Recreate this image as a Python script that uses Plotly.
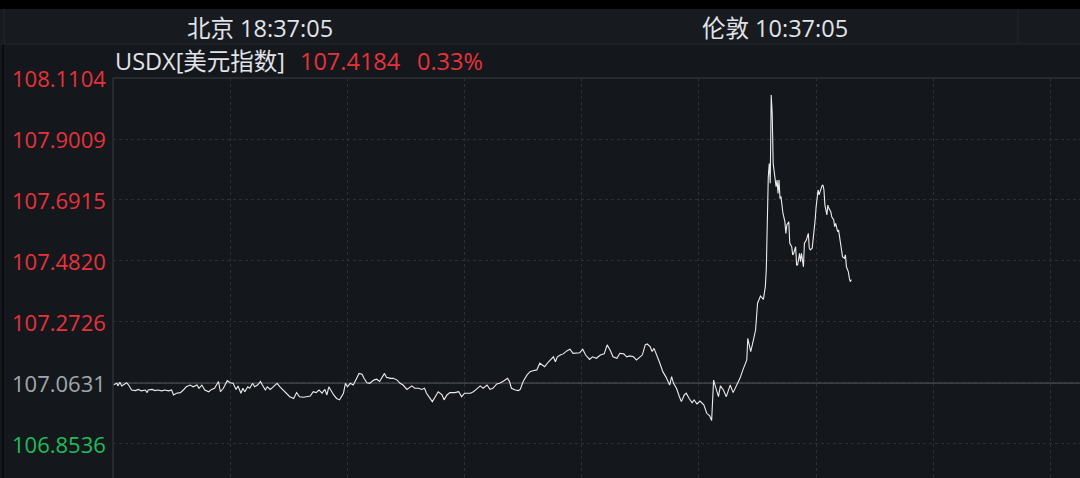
import plotly.graph_objects as go

# ---- data (minutes after 06:00 Beijing time, USDX price) ----
minutes = [0, 4, 5, 7, 9, 12, 14, 16, 19, 23, 26, 29, 33, 35, 36, 40, 43, 46, 50, 53, 57, 60, 62, 65, 69, 72, 75, 79, 82, 86,
           88, 91, 94, 98, 101, 104, 108, 110, 113, 117, 120, 123, 126, 128, 131, 133, 135, 138, 140, 143, 145, 148, 151, 153, 156, 158, 161, 164, 168, 171,
           174, 178, 181, 185, 188, 191, 195, 198, 202, 205, 208, 211, 214, 217, 219, 221, 224, 226, 229, 232, 236, 238, 240, 243, 246, 250, 252, 255, 257, 260,
           263, 267, 270, 273, 275, 278, 280, 284, 287, 291, 294, 297, 301, 304, 306, 309, 313, 316, 319, 321, 325, 327, 330, 333, 337, 339, 342, 345, 350, 354,
           357, 360, 366, 369, 372, 376, 379, 383, 386, 389, 393, 396, 400, 404, 406, 408, 412, 415, 417, 420, 424, 427, 430, 434, 437, 440, 442, 446, 448, 451,
           453, 455, 458, 461, 465, 468, 471, 475, 478, 481, 484, 488, 491, 495, 499, 503, 506, 509, 512, 516, 519, 523, 526, 529, 533, 536, 539, 542, 545, 547,
           550, 552, 554, 557, 560, 563, 566, 570, 572, 574, 577, 580, 582, 585, 587, 590, 593, 595, 598, 601, 605, 608, 611, 613, 615, 617, 620, 622, 625, 628,
           632, 635, 639, 642, 645, 649, 650, 653, 655, 658, 660, 663, 666, 668, 669, 670, 671, 672, 673, 674, 675, 676, 677, 678, 679, 680, 681, 682, 683, 684,
           685, 686, 688, 689, 690, 692, 693, 695, 696, 697, 699, 700, 701, 703, 704, 705, 707, 708, 710, 711, 712, 713, 714, 716, 717, 719, 720, 721, 722, 723,
           725, 726, 727, 728, 729, 731, 732, 733, 735, 736, 738, 739, 740, 742, 743, 744, 746, 747, 749, 750, 751, 753, 754, 755, 756]
prices = [107.056, 107.062, 107.053, 107.066, 107.053, 107.059, 107.064, 107.056, 107.039, 107.037, 107.041, 107.036, 107.039, 107.030, 107.039, 107.041, 107.037, 107.039, 107.036, 107.039,
          107.036, 107.039, 107.022, 107.028, 107.030, 107.039, 107.050, 107.056, 107.050, 107.056, 107.045, 107.056, 107.039, 107.033, 107.041, 107.045, 107.068, 107.033, 107.045, 107.071,
          107.064, 107.062, 107.041, 107.053, 107.028, 107.045, 107.033, 107.050, 107.045, 107.062, 107.050, 107.056, 107.068, 107.056, 107.039, 107.050, 107.041, 107.050, 107.062, 107.050,
          107.039, 107.028, 107.016, 107.010, 107.030, 107.016, 107.014, 107.016, 107.018, 107.033, 107.030, 107.039, 107.028, 107.041, 107.022, 107.050, 107.033, 107.022, 107.010, 107.005,
          107.028, 107.062, 107.050, 107.062, 107.056, 107.085, 107.096, 107.093, 107.079, 107.064, 107.062, 107.073, 107.076, 107.068, 107.081, 107.096, 107.083, 107.079, 107.079, 107.073,
          107.062, 107.056, 107.041, 107.048, 107.053, 107.045, 107.045, 107.041, 107.045, 107.028, 107.010, 106.999, 107.016, 107.033, 107.022, 107.005, 107.022, 107.030, 107.030, 107.033,
          107.016, 107.028, 107.028, 107.033, 107.041, 107.053, 107.045, 107.056, 107.041, 107.045, 107.060, 107.062, 107.070, 107.079, 107.068, 107.045, 107.039, 107.037, 107.041, 107.068,
          107.091, 107.102, 107.105, 107.108, 107.131, 107.125, 107.119, 107.136, 107.142, 107.153, 107.136, 107.153, 107.159, 107.163, 107.174, 107.179, 107.165, 107.167, 107.167, 107.179,
          107.159, 107.144, 107.153, 107.148, 107.159, 107.163, 107.194, 107.176, 107.153, 107.148, 107.165, 107.163, 107.153, 107.156, 107.153, 107.142, 107.151, 107.159, 107.194, 107.197,
          107.188, 107.171, 107.182, 107.159, 107.131, 107.102, 107.085, 107.056, 107.085, 107.062, 107.045, 107.016, 106.999, 107.022, 107.028, 107.010, 106.995, 107.005, 106.991, 107.001,
          106.988, 106.959, 106.950, 106.934, 107.073, 107.050, 107.016, 107.053, 107.039, 107.016, 107.056, 107.030, 107.056, 107.079, 107.108, 107.142, 107.216, 107.171, 107.199, 107.245,
          107.337, 107.362, 107.350, 107.394, 107.457, 107.691, 107.771, 107.817, 107.749, 108.052, 107.989, 107.817, 107.794, 107.760, 107.737, 107.760, 107.714, 107.760, 107.697, 107.703,
          107.674, 107.646, 107.617, 107.577, 107.606, 107.617, 107.543, 107.531, 107.503, 107.508, 107.531, 107.468, 107.468, 107.508, 107.480, 107.508, 107.462, 107.543, 107.554, 107.565,
          107.577, 107.526, 107.520, 107.526, 107.554, 107.623, 107.668, 107.697, 107.726, 107.709, 107.735, 107.740, 107.743, 107.726, 107.674, 107.640, 107.674, 107.663, 107.651, 107.634,
          107.623, 107.600, 107.611, 107.583, 107.588, 107.565, 107.526, 107.497, 107.491, 107.503, 107.462, 107.445, 107.423, 107.411, 107.418]

prev_close = 107.0631
tick_values = [108.1104, 107.9009, 107.6915, 107.4820, 107.2726, 107.0631, 106.8536]
tick_labels = ["108.1104", "107.9009", "107.6915", "107.4820", "107.2726", "107.0631", "106.8536"]
last_price = "107.4184"
change_pct = "0.33%"
title_name = "USDX[美元指数]"
beijing_time = "北京 18:37:05"
london_time = "伦敦 10:37:05"

W, H = 1080, 478
BG = "#14171c"
HEADER_BG = "#171a1f"
GRID = "#2d3036"
RED = "#e8323b"
GREEN = "#1fbd58"
GRAY_LBL = "#a3a7ab"
TXT = "#e1e4e8"
FONT = "Open Sans, Noto Sans CJK SC"

x_left = 113 / W
y_top_frac = 400 / H

fig = go.Figure()
fig.add_trace(go.Scatter(x=minutes, y=prices, mode="lines",
                         line=dict(color="#ececec", width=1.1), hoverinfo="skip"))

fig.update_layout(
    width=W, height=H,
    margin=dict(l=0, r=0, t=0, b=0),
    paper_bgcolor=BG, plot_bgcolor=BG,
    showlegend=False,
    xaxis=dict(domain=[x_left, 1], range=[0, 990.2], tick0=0, dtick=120,
               showgrid=True, gridcolor=GRID, griddash="dot", gridwidth=1,
               showticklabels=False, zeroline=False, showline=False, fixedrange=True),
    yaxis=dict(domain=[0, y_top_frac], range=[106.7368, 108.1104],
               tickvals=tick_values, showgrid=True, gridcolor=GRID, griddash="dot", gridwidth=1,
               showticklabels=False, zeroline=False, showline=False, fixedrange=True),
)

shapes = []
# top black strip
shapes.append(dict(type="rect", xref="paper", yref="paper", x0=0, x1=1, y0=1 - 9 / H, y1=1,
                   fillcolor="#000000", line=dict(width=0), layer="below"))
# header band
shapes.append(dict(type="rect", xref="paper", yref="paper", x0=0, x1=1, y0=1 - 44 / H, y1=1 - 9 / H,
                   fillcolor=HEADER_BG, line=dict(width=0), layer="below"))
shapes.append(dict(type="line", xref="paper", yref="paper", x0=0, x1=1, y0=1 - 44 / H, y1=1 - 44 / H,
                   line=dict(color="#25282d", width=1)))
# header separators
for px in (4, 1018):
    shapes.append(dict(type="line", xref="paper", yref="paper", x0=px / W, x1=px / W, y0=1 - 44 / H, y1=1 - 9 / H,
                       line=dict(color="#25282d", width=1)))
# far-left border
shapes.append(dict(type="line", xref="paper", yref="paper", x0=3 / W, x1=3 / W, y0=0, y1=1 - 44 / H,
                   line=dict(color="#0a0c0f", width=2)))
# plot frame (left and top)
shapes.append(dict(type="line", xref="paper", yref="paper", x0=x_left, x1=x_left, y0=0, y1=y_top_frac,
                   line=dict(color="#2e3137", width=1.5)))
shapes.append(dict(type="line", xref="paper", yref="paper", x0=x_left, x1=1, y0=y_top_frac, y1=y_top_frac,
                   line=dict(color="#2e3137", width=1.5)))
# previous close baseline
shapes.append(dict(type="line", xref="paper", yref="y", x0=x_left, x1=1, y0=prev_close, y1=prev_close,
                   line=dict(color="#3b3e43", width=2), layer="below"))
fig.update_layout(shapes=shapes)

annotations = []
for v, lbl in zip(tick_values, tick_labels):
    if abs(v - prev_close) < 1e-6:
        col = GRAY_LBL
    elif v > prev_close:
        col = RED
    else:
        col = GREEN
    annotations.append(dict(xref="paper", yref="y", x=x_left, y=v, xshift=-5, text=lbl,
                            showarrow=False, xanchor="right", yanchor="middle",
                            font=dict(family=FONT, size=22, color=col)))

annotations.append(dict(xref="paper", yref="paper", x=260 / W, y=1 - 28 / H, text=beijing_time,
                        showarrow=False, xanchor="center", yanchor="middle",
                        font=dict(family=FONT, size=23.5, color=TXT)))
annotations.append(dict(xref="paper", yref="paper", x=775 / W, y=1 - 28 / H, text=london_time,
                        showarrow=False, xanchor="center", yanchor="middle",
                        font=dict(family=FONT, size=23.5, color=TXT)))
annotations.append(dict(xref="paper", yref="paper", x=113 / W, y=1 - 61 / H, text=title_name,
                        showarrow=False, xanchor="left", yanchor="middle",
                        font=dict(family=FONT, size=23.5, color=TXT)))
annotations.append(dict(xref="paper", yref="paper", x=298 / W, y=1 - 61 / H, text=last_price,
                        showarrow=False, xanchor="left", yanchor="middle",
                        font=dict(family=FONT, size=23.5, color=RED)))
annotations.append(dict(xref="paper", yref="paper", x=415 / W, y=1 - 61 / H, text=change_pct,
                        showarrow=False, xanchor="left", yanchor="middle",
                        font=dict(family=FONT, size=23.5, color=RED)))
fig.update_layout(annotations=annotations)

fig.write_html("out.html", config={"displayModeBar": False},
               post_script="document.body.style.margin='0';document.body.style.background='#14171c';")
